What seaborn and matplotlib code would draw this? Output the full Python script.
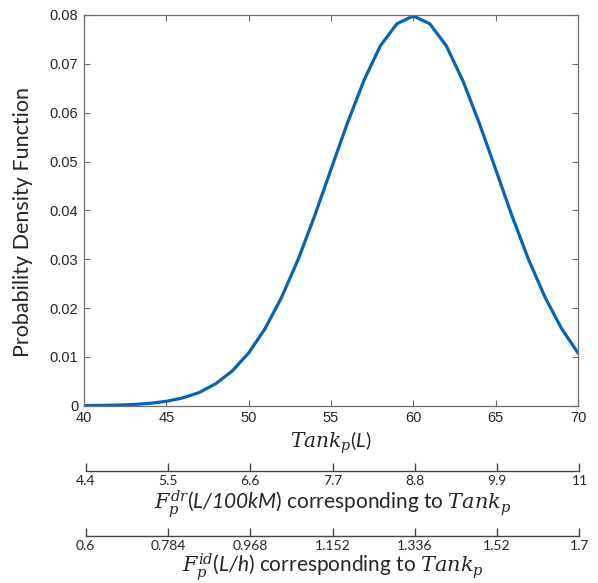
import numpy as np
import pandas as pd
import matplotlib
matplotlib.use("Agg")
import matplotlib.pyplot as plt
import seaborn as sns

# ---- data ----
tank = [40, 41, 42, 43, 44, 45, 46, 47, 48, 49, 50, 51, 52, 53, 54, 55,
        56, 57, 58, 59, 60, 61, 62, 63, 64, 65, 66, 67, 68, 69, 70]
pdf = [0.00003, 0.00006, 0.00012, 0.00025, 0.00048, 0.0009, 0.0016, 0.0027,
       0.0045, 0.0071, 0.0108, 0.0158, 0.0222, 0.0299, 0.0388, 0.0484,
       0.0579, 0.0666, 0.0737, 0.0782, 0.0798, 0.0782, 0.0737, 0.0666,
       0.0579, 0.0484, 0.0388, 0.0299, 0.0222, 0.0158, 0.0108]
main_ticks = [40, 45, 50, 55, 60, 65, 70]
y_ticks = [0, 0.01, 0.02, 0.03, 0.04, 0.05, 0.06, 0.07, 0.08]
y_ticklabels = ["0", "0.01", "0.02", "0.03", "0.04", "0.05", "0.06", "0.07", "0.08"]
fdr_labels = ["4.4", "5.5", "6.6", "7.7", "8.8", "9.9", "11"]
fid_labels = ["0.6", "0.784", "0.968", "1.152", "1.336", "1.52", "1.7"]

df = pd.DataFrame({"tank": tank, "pdf": pdf})

sns.set_theme(style="white")
plt.rcParams["font.family"] = ["Liberation Sans", "DejaVu Sans"]
plt.rcParams["mathtext.fontset"] = "custom"
plt.rcParams["mathtext.it"] = "DejaVu Serif:italic"
plt.rcParams["mathtext.rm"] = "Lato"
plt.rcParams["mathtext.sf"] = "Lato:italic"

W, H = 598, 583
fig = plt.figure(figsize=(W / 100, H / 100), dpi=100)

spine_c = "#6e6e6e"
text_c = "#262626"

L, R = 84 / W, 578 / W
ax = fig.add_axes([L, 1 - 405.7 / H, R - L, (405.7 - 15) / H])
sns.lineplot(data=df, x="tank", y="pdf", ax=ax, color="#0a62b0", linewidth=2.3)
ax.set_xlim(40, 70)
ax.set_ylim(0, 0.08)
ax.set_xticks(main_ticks)
ax.set_xticklabels([str(t) for t in main_ticks])
ax.set_yticks(y_ticks)
ax.set_yticklabels(y_ticklabels)
ax.tick_params(direction="in", length=4, width=0.8, color=spine_c,
               labelcolor=text_c, labelsize=10.5, top=True, right=True,
               bottom=True, left=True, pad=4)
for s in ax.spines.values():
    s.set_color(spine_c)
    s.set_linewidth(0.9)
ax.set_xlabel(r"$Tank_p$($\mathsf{L}$)", fontsize=14.5, color=text_c, labelpad=3,
              family="Lato")
ax.set_ylabel("Probability Density Function", fontsize=15.5, color=text_c,
              family="Lato")
ax.yaxis.set_label_coords(-0.103, 0.469)


def sec_axis(ypix, labels, title, lp):
    a = fig.add_axes([L + 1.5 / W, 1 - ypix / H, R - L, 0.001])
    a.set_xlim(40, 70)
    a.set_ylim(0, 1)
    a.set_yticks([])
    for k in ["top", "left", "right"]:
        a.spines[k].set_visible(False)
    a.spines["bottom"].set_color("#444444")
    a.spines["bottom"].set_linewidth(1.0)
    a.set_xticks(main_ticks)
    a.set_xticklabels(labels, family="Lato")
    a.tick_params(axis="x", direction="in", length=5.5, width=1.0, color="#444444",
                  labelcolor=text_c, labelsize=10, pad=3, bottom=True)
    a.set_xlabel(title, fontsize=15, color=text_c, labelpad=lp, family="Lato")
    a.patch.set_alpha(0)
    return a


sec_axis(471, fdr_labels, r"$F_p^{dr}$($\mathsf{L/100kM}$) corresponding to $Tank_p$", 0.5)
sec_axis(536, fid_labels, r"$F_p^{id}$($\mathsf{L/h}$) corresponding to $Tank_p$", -0.5)

fig.savefig("out.png", dpi=100)
